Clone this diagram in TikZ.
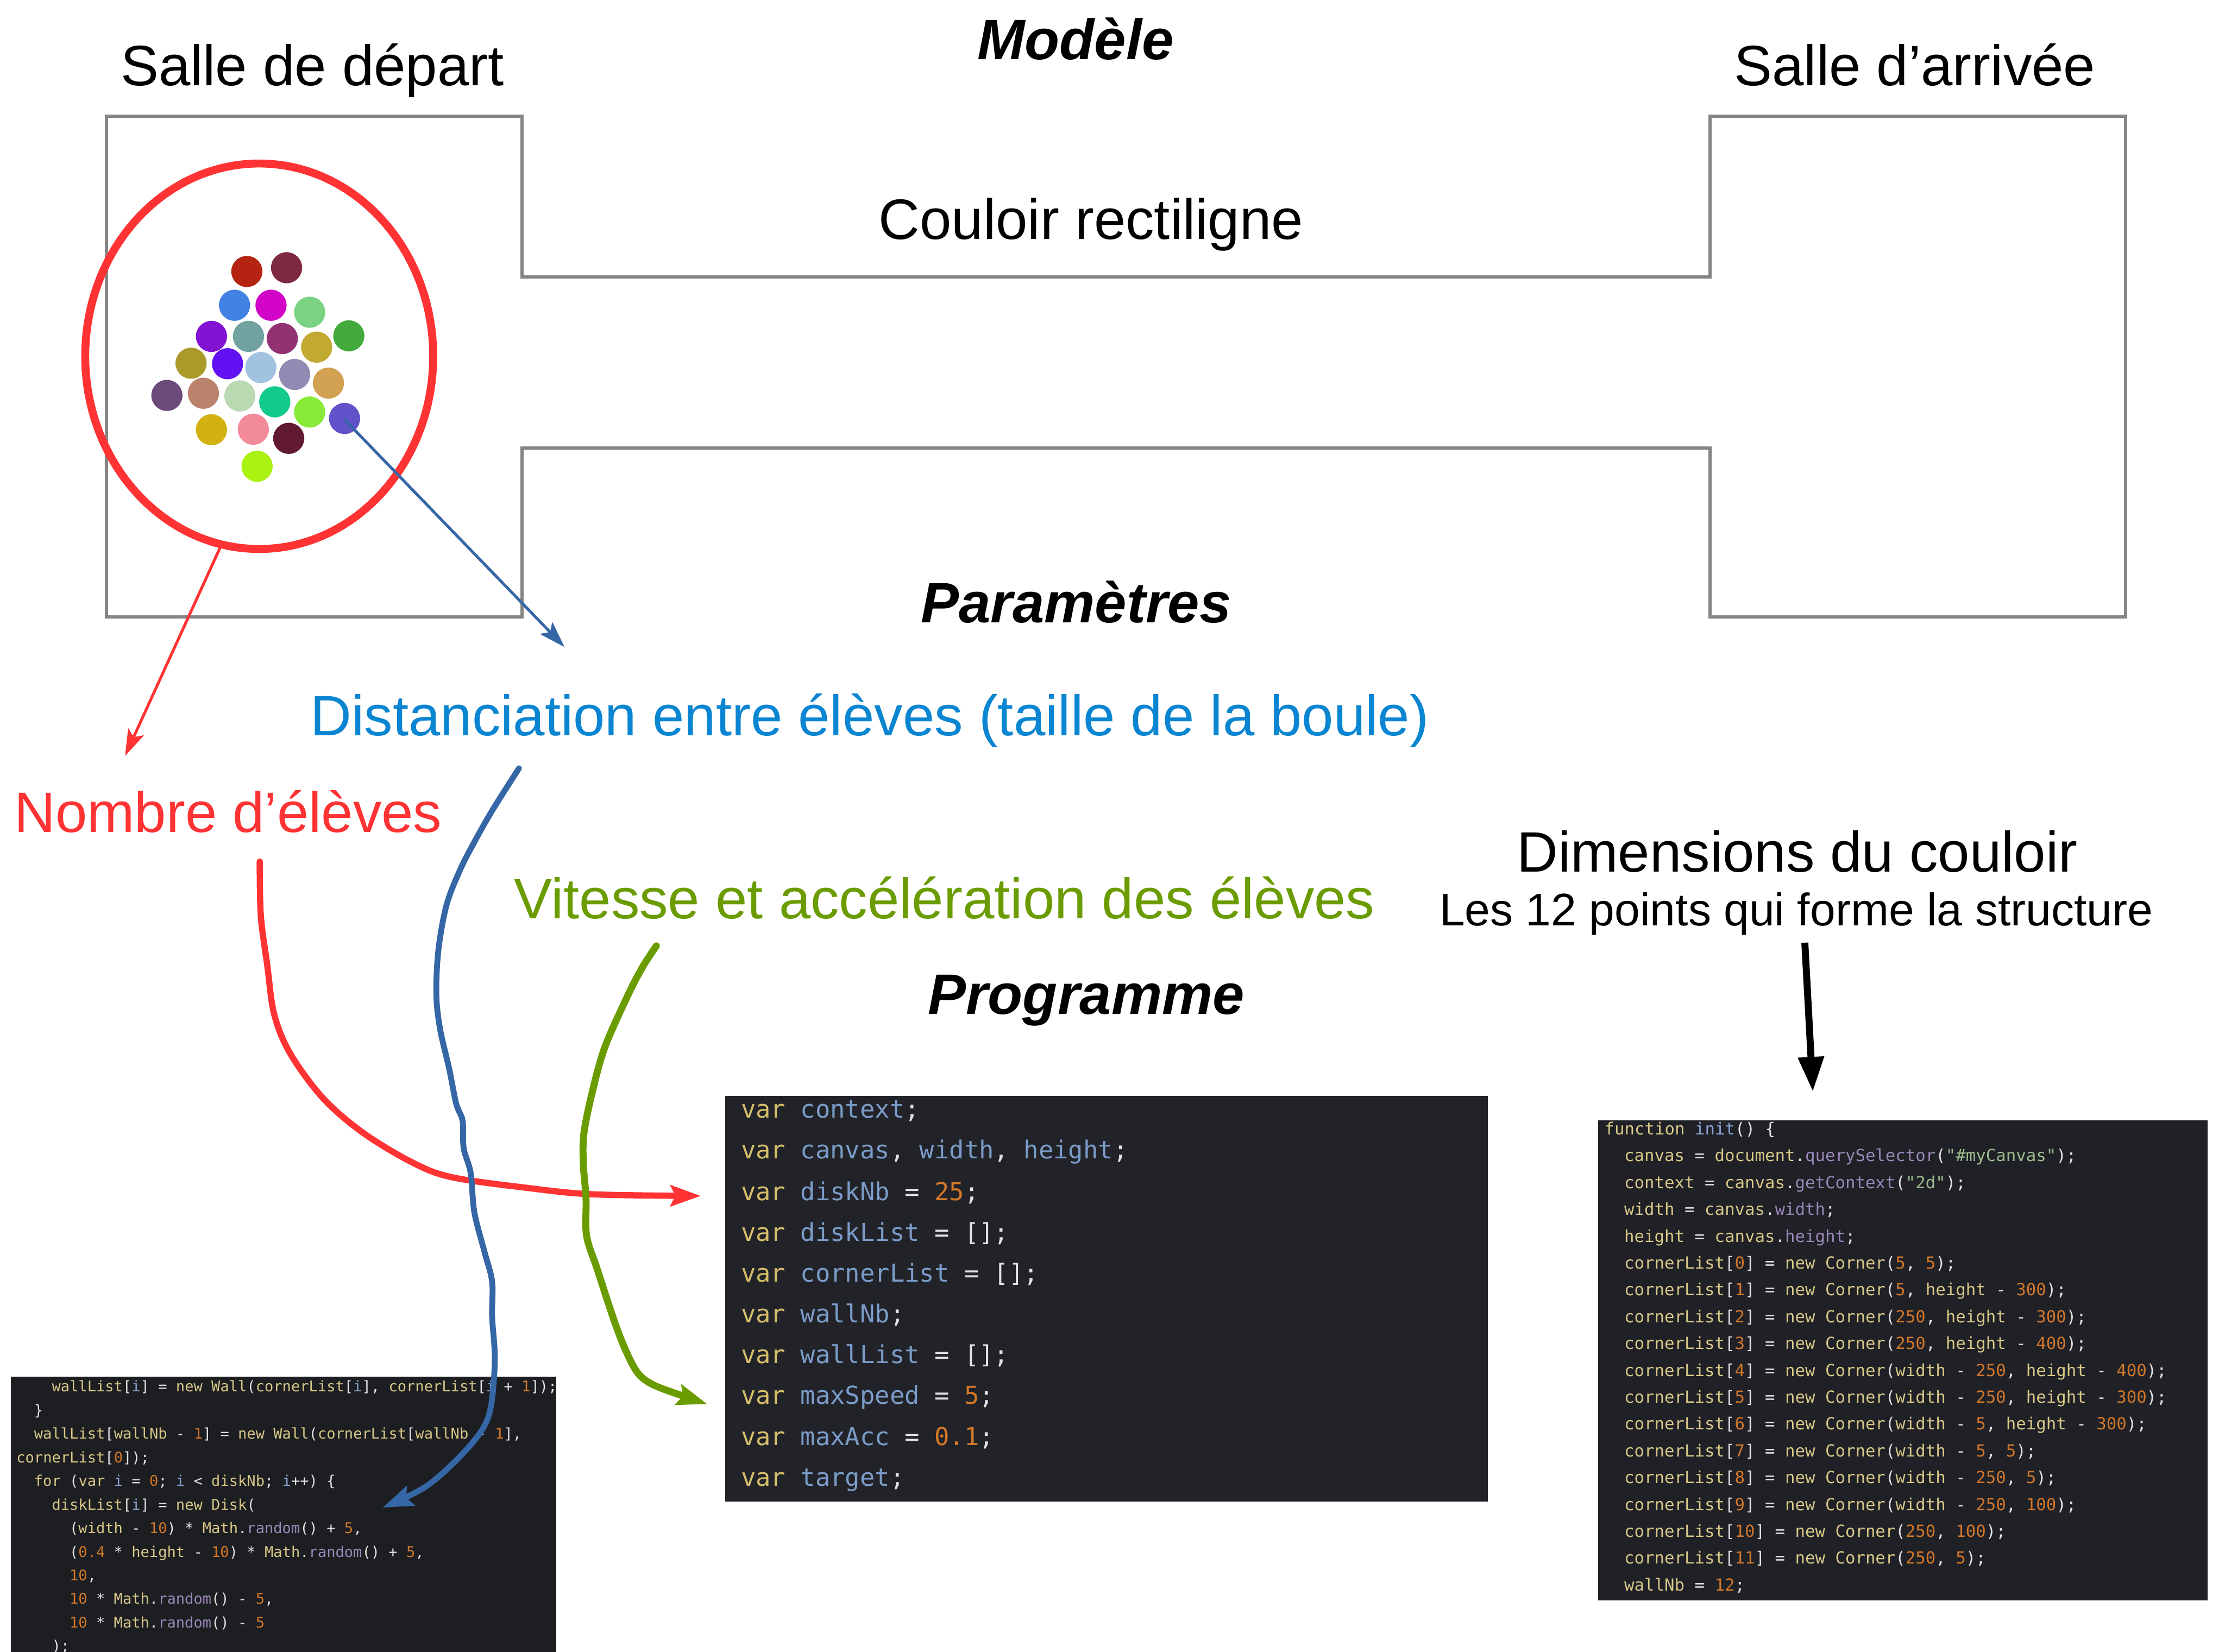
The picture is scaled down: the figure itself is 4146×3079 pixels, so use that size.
\documentclass[tikz,border=0pt]{standalone}
\usepackage{fontspec}
\setmainfont{Liberation Sans}
\newfontfamily\codefont{DejaVu Sans Mono}
\usetikzlibrary{arrows.meta,shapes.geometric}
\definecolor{wallc}{HTML}{858585}
\definecolor{redc}{HTML}{FF3333}
\definecolor{bluec}{HTML}{3566A6}
\definecolor{bluet}{HTML}{0A85D2}
\definecolor{greenc}{HTML}{6A9C00}
\definecolor{bgM}{HTML}{222329}
\definecolor{bgR}{HTML}{202127}
\definecolor{bgL}{HTML}{1D1E22}
\definecolor{cdW}{HTML}{E2E2E2}
\definecolor{cdV}{HTML}{D5BE6A}
\definecolor{cdI}{HTML}{7B9CC8}
\definecolor{cdO}{HTML}{D2782A}
\definecolor{cdY}{HTML}{D8C888}
\definecolor{cdB}{HTML}{8AA4D0}
\definecolor{cdP}{HTML}{9A88B8}
\definecolor{cdG}{HTML}{9CBC90}
\newcommand\tkV[1]{\textcolor{cdV}{#1}}
\newcommand\tkI[1]{\textcolor{cdI}{#1}}
\newcommand\tkO[1]{\textcolor{cdO}{#1}}
\newcommand\tkY[1]{\textcolor{cdY}{#1}}
\newcommand\tkB[1]{\textcolor{cdB}{#1}}
\newcommand\tkP[1]{\textcolor{cdP}{#1}}
\newcommand\tkG[1]{\textcolor{cdG}{#1}}
\definecolor{d1}{HTML}{B52312}
\definecolor{d2}{HTML}{7D2A40}
\definecolor{d3}{HTML}{4282E2}
\definecolor{d4}{HTML}{D204C8}
\definecolor{d5}{HTML}{7AD282}
\definecolor{d6}{HTML}{8412D2}
\definecolor{d7}{HTML}{72A2A0}
\definecolor{d8}{HTML}{923272}
\definecolor{d9}{HTML}{C2AA32}
\definecolor{d10}{HTML}{42AA3A}
\definecolor{d11}{HTML}{AA9A2A}
\definecolor{d12}{HTML}{6212F2}
\definecolor{d13}{HTML}{A2C2E2}
\definecolor{d14}{HTML}{928AB2}
\definecolor{d15}{HTML}{D2A252}
\definecolor{d16}{HTML}{6C4A7A}
\definecolor{d17}{HTML}{BA826A}
\definecolor{d18}{HTML}{BAD8B2}
\definecolor{d19}{HTML}{12CA8A}
\definecolor{d20}{HTML}{8AEA3A}
\definecolor{d21}{HTML}{6252CA}
\definecolor{d22}{HTML}{D2B212}
\definecolor{d23}{HTML}{F28A9A}
\definecolor{d24}{HTML}{621A32}
\definecolor{d25}{HTML}{AAF212}
\tikzset{
  big/.style={font=\fontsize{30.2}{36}\selectfont, inner sep=0pt},
  ttl/.style={font=\fontsize{30.2}{36}\selectfont\bfseries\itshape, inner sep=0pt},
  sub/.style={font=\fontsize{24.2}{29}\selectfont, inner sep=0pt},
  wall/.style={draw=wallc, line width=1.7pt, line join=miter},
  codeM/.style={font=\codefont\fontsize{13.1}{15}\selectfont\frenchspacing, text=cdW, anchor=base west, inner sep=0pt},
  codeR/.style={font=\codefont\fontsize{8.84}{10}\selectfont\frenchspacing, text=cdW, anchor=base west, inner sep=0pt},
  codeL/.style={font=\codefont\fontsize{7.8}{9}\selectfont\frenchspacing, text=cdW, anchor=base west, inner sep=0pt},
  thinarr/.style={line width=1.5pt, -{Stealth[length=14pt,width=9pt,inset=3pt]}},
  wavyarr/.style={line width=3.3pt, line cap=round, -{Stealth[length=16pt,width=11pt,inset=2.5pt]}},
}
\begin{document}
\begin{tikzpicture}[x=0.01cm, y=-0.01cm]
\fill[white] (0,0) rectangle (4146,3079);
\useasboundingbox (0,0) rectangle (4146,3079);

% walls
\draw[wall] (198,217) -- (973,217) -- (973,516) -- (3186,516) -- (3186,217) -- (3961,217)
  -- (3961,1150) -- (3186,1150) -- (3186,835) -- (973,835) -- (973,1150) -- (198,1150) -- cycle;

% disks
\foreach \i/\x/\y in {1/460/506, 2/534/499, 3/437/569, 4/505/569, 5/577/582,
  6/394/627, 7/463/627, 8/526/631, 10/650/626, 9/590/647, 11/356/677, 12/424/678,
  13/486/685, 14/549/698, 15/612/714, 16/311/737, 17/379/733, 18/447/738,
  19/512/749, 20/577/768, 21/642/780, 22/394/801, 23/472/800, 24/538/817, 25/479/869}
  \fill[d\i] (\x,\y) circle[radius=0.29cm];
\coordinate (disk21) at (642,782);

% red ring
\node[ellipse, draw=redc, line width=4.2pt, minimum width=6.48cm, minimum height=7.18cm, inner sep=0pt] (group) at (483,664) {};

% texts
\node[ttl, anchor=base] (modele) at (2004,111) {Modèle};
\node[big, anchor=base] (salleD) at (582,159) {Salle de départ};
\node[big, anchor=base] (salleA) at (3568,159) {Salle d’arrivée};
\node[big, anchor=base] (couloir) at (2033,446) {Couloir rectiligne};
\node[ttl, anchor=base] (param) at (2005,1160) {Paramètres};
\node[big, anchor=base west, text=bluet] (dist) at (578,1371) {Distanciation entre élèves (taille de la boule)};
\node[big, anchor=base west, text=redc] (nombre) at (26,1551) {Nombre d’élèves};
\node[big, anchor=base west, text=greenc] (vitesse) at (957,1712) {Vitesse et accélération des élèves};
\node[big, anchor=base] (dimT) at (3349,1625) {Dimensions du couloir};
\node[sub, anchor=base] (dimS) at (3347,1725) {Les 12 points qui forme la structure};
\node[ttl, anchor=base] (prog) at (2024,1890) {Programme};

% code blocks
\node[fill=bgM, minimum width=14.2cm, minimum height=7.56cm, anchor=north west, inner sep=0pt] (codeMid) at (1351,2042) {};
\node[fill=bgR, minimum width=11.35cm, minimum height=8.95cm, anchor=north west, inner sep=0pt] (codeRight) at (2977,2087) {};
\node[fill=bgL, minimum width=10.15cm, minimum height=5.2cm, anchor=north west, inner sep=0pt] (codeLeft) at (20,2565) {};

% middle code
\node[codeM] (m0) at (1380,2084) {\tkV{var} \tkI{context};};
\node[codeM] (m1) at (1380,2160) {\tkV{var} \tkI{canvas}, \tkI{width}, \tkI{height};};
\node[codeM] (m2) at (1380,2237) {\tkV{var} \tkI{diskNb} = \tkO{25};};
\node[codeM] (m3) at (1380,2313) {\tkV{var} \tkI{diskList} = [];};
\node[codeM] (m4) at (1380,2389) {\tkV{var} \tkI{cornerList} = [];};
\node[codeM] (m5) at (1380,2465) {\tkV{var} \tkI{wallNb};};
\node[codeM] (m6) at (1380,2541) {\tkV{var} \tkI{wallList} = [];};
\node[codeM] (m7) at (1380,2617) {\tkV{var} \tkI{maxSpeed} = \tkO{5};};
\node[codeM] (m8) at (1380,2694) {\tkV{var} \tkI{maxAcc} = \tkO{0.1};};
\node[codeM] (m9) at (1380,2770) {\tkV{var} \tkI{target};};

% right code
\node[codeR] (r0) at (2989,2115) {\tkY{function} \tkB{init}() \{};
\node[codeR] (r1) at (3026,2165) {\tkY{canvas} = \tkY{document}.\tkP{querySelector}(\tkG{"\#myCanvas"});};
\node[codeR] (r2) at (3026,2215) {\tkY{context} = \tkY{canvas}.\tkP{getContext}(\tkG{"2d"});};
\node[codeR] (r3) at (3026,2265) {\tkY{width} = \tkY{canvas}.\tkP{width};};
\node[codeR] (r4) at (3026,2315) {\tkY{height} = \tkY{canvas}.\tkP{height};};
\node[codeR] (r5) at (3026,2365) {\tkY{cornerList}[\tkO{0}] = \tkY{new Corner}(\tkO{5}, \tkO{5});};
\node[codeR] (r6) at (3026,2415) {\tkY{cornerList}[\tkO{1}] = \tkY{new Corner}(\tkO{5}, \tkY{height} - \tkO{300});};
\node[codeR] (r7) at (3026,2465) {\tkY{cornerList}[\tkO{2}] = \tkY{new Corner}(\tkO{250}, \tkY{height} - \tkO{300});};
\node[codeR] (r8) at (3026,2515) {\tkY{cornerList}[\tkO{3}] = \tkY{new Corner}(\tkO{250}, \tkY{height} - \tkO{400});};
\node[codeR] (r9) at (3026,2565) {\tkY{cornerList}[\tkO{4}] = \tkY{new Corner}(\tkY{width} - \tkO{250}, \tkY{height} - \tkO{400});};
\node[codeR] (r10) at (3026,2615) {\tkY{cornerList}[\tkO{5}] = \tkY{new Corner}(\tkY{width} - \tkO{250}, \tkY{height} - \tkO{300});};
\node[codeR] (r11) at (3026,2665) {\tkY{cornerList}[\tkO{6}] = \tkY{new Corner}(\tkY{width} - \tkO{5}, \tkY{height} - \tkO{300});};
\node[codeR] (r12) at (3026,2715) {\tkY{cornerList}[\tkO{7}] = \tkY{new Corner}(\tkY{width} - \tkO{5}, \tkO{5});};
\node[codeR] (r13) at (3026,2765) {\tkY{cornerList}[\tkO{8}] = \tkY{new Corner}(\tkY{width} - \tkO{250}, \tkO{5});};
\node[codeR] (r14) at (3026,2815) {\tkY{cornerList}[\tkO{9}] = \tkY{new Corner}(\tkY{width} - \tkO{250}, \tkO{100});};
\node[codeR] (r15) at (3026,2865) {\tkY{cornerList}[\tkO{10}] = \tkY{new Corner}(\tkO{250}, \tkO{100});};
\node[codeR] (r16) at (3026,2915) {\tkY{cornerList}[\tkO{11}] = \tkY{new Corner}(\tkO{250}, \tkO{5});};
\node[codeR] (r17) at (3026,2965) {\tkY{wallNb} = \tkO{12};};

% left code
\node[codeL] (l0) at (96,2594) {\tkY{wallList}[\tkB{i}] = \tkY{new Wall}(\tkY{cornerList}[\tkB{i}], \tkY{cornerList}[\tkB{i} + \tkO{1}]);};
\node[codeL] (l1) at (63,2638) {\}};
\node[codeL] (l2) at (63,2682) {\tkY{wallList}[\tkY{wallNb} - \tkO{1}] = \tkY{new Wall}(\tkY{cornerList}[\tkY{wallNb} - \tkO{1}],};
\node[codeL] (l3) at (30,2726) {\tkY{cornerList}[\tkO{0}]);};
\node[codeL] (l4) at (63,2770) {\tkY{for} (\tkY{var} \tkB{i} = \tkO{0}; \tkB{i} < \tkY{diskNb}; \tkB{i}++) \{};
\node[codeL] (l5) at (96,2814) {\tkY{diskList}[\tkB{i}] = \tkY{new Disk}(};
\node[codeL] (l6) at (129,2858) {(\tkY{width} - \tkO{10}) * \tkY{Math}.\tkP{random}() + \tkO{5},};
\node[codeL] (l7) at (129,2902) {(\tkO{0.4} * \tkY{height} - \tkO{10}) * \tkY{Math}.\tkP{random}() + \tkO{5},};
\node[codeL] (l8) at (129,2946) {\tkO{10},};
\node[codeL] (l9) at (129,2990) {\tkO{10} * \tkY{Math}.\tkP{random}() - \tkO{5},};
\node[codeL] (l10) at (129,3034) {\tkO{10} * \tkY{Math}.\tkP{random}() - \tkO{5}};
\node[codeL] (l11) at (96,3078) {);};

% connector end points
\coordinate (ringOut) at (410,1021);
\coordinate (nombreIn) at (233,1409);
\coordinate (distIn) at (1052,1206);
\coordinate (nombreOut) at (484,1606);
\coordinate (midIn1) at (1306,2229);
\coordinate (distOut) at (967,1432);
\coordinate (leftIn) at (713,2810);
\coordinate (vitOut) at (1223,1763);
\coordinate (midIn2) at (1318,2617);
\coordinate (dimOut) at (3363,1757);
\coordinate (rightIn) at (3378,2035);

% straight arrows
\draw[redc, thinarr] (ringOut) -- (nombreIn);
\draw[bluec, thinarr] (disk21) -- (distIn);

% curved arrows
\draw[redc, wavyarr] plot[smooth, tension=0.55] coordinates {(nombreOut) (486,1707) (498,1799) (511,1891) (541,1964) (602,2047) (676,2111) (767,2166) (841,2194) (982,2214) (1104,2226) (midIn1)};
\draw[bluec, wavyarr, line width=3.1pt] plot[smooth, tension=0.55] coordinates {(distOut) (917,1511) (883,1571) (857,1622) (832,1687) (817,1770) (813,1853) (820,1918) (837,1992) (850,2057) (862,2089) (864,2140) (877,2186) (884,2260) (903,2334) (917,2389) (917,2454) (922,2533) (915,2620) (897,2667) (850,2722) (790,2773) (leftIn)};
\draw[greenc, wavyarr, line width=3.7pt] plot[smooth, tension=0.55] coordinates {(vitOut) (1197,1803) (1170,1855) (1127,1952) (1103,2038) (1088,2113) (1087,2170) (1092,2234) (1093,2303) (1113,2366) (1147,2469) (1170,2526) (1190,2561) (1217,2581) (1270,2601) (midIn2)};
\draw[black, line width=3.7pt, -{Triangle[length=18.5pt,width=13pt]}] (dimOut) -- (rightIn);
\end{tikzpicture}
\end{document}
